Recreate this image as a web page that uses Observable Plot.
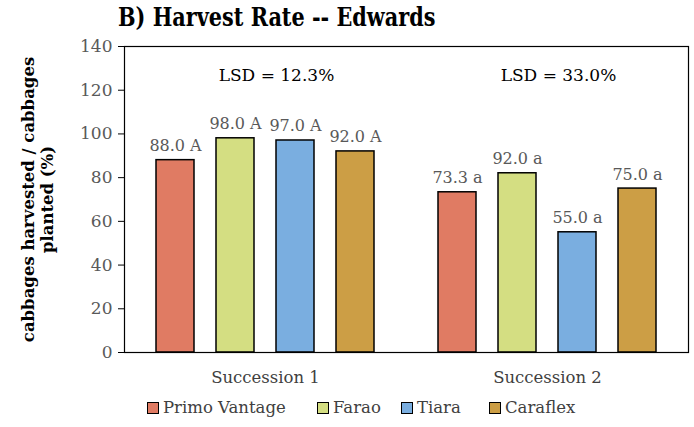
<!DOCTYPE html>
<html><head><meta charset="utf-8">
<script src="https://cdn.jsdelivr.net/npm/d3@7"></script>
<script src="https://cdn.jsdelivr.net/npm/@observablehq/plot@0.6"></script>
<style>
body{margin:0;background:#fff;width:694px;height:427px;overflow:hidden;position:relative;font-family:"DejaVu Serif",serif}
#title{position:absolute;left:118px;top:2px;font-family:"DejaVu Serif",serif;font-weight:bold;font-size:26px;color:#000;white-space:nowrap;transform:scaleX(0.8);transform-origin:0 0}
#chart{position:absolute;left:0;top:40px}
#legend{position:absolute;left:0;top:398px;width:694px;height:24px;font-family:"DejaVu Serif",serif;font-size:16.5px;color:#404040}
.item{position:absolute;top:0;display:flex;align-items:center;white-space:nowrap}
.sw{width:12px;height:12px;border:1.5px solid #000;margin-right:4px;box-sizing:border-box}
</style></head><body>
<div id="title">B) Harvest Rate -- Edwards</div>
<div id="chart"></div>
<div id="legend"></div>
<script>
const successions = ["Succession 1", "Succession 2"];
const varieties = ["Primo Vantage", "Farao", "Tiara", "Caraflex"];
const colors = ["#E07B63", "#D4DE82", "#7AAEE0", "#CC9E45"];
const s1Values = [88.0, 98.0, 97.0, 92.0];
const s2Values = [73.3, 82.0, 55.0, 75.0];
const s1Labels = ["88.0 A", "98.0 A", "97.0 A", "92.0 A"];
const s2Labels = ["73.3 a", "92.0 a", "55.0 a", "75.0 a"];
const lsdLabels = ["LSD = 12.3%", "LSD = 33.0%"];
const yTicks = [0, 20, 40, 60, 80, 100, 120, 140];
const yTitle = "cabbages harvested / cabbages\nplanted (%)";

const data = [];
varieties.forEach((v, i) => data.push({succession: successions[0], variety: v, value: s1Values[i], label: s1Labels[i]}));
varieties.forEach((v, i) => data.push({succession: successions[1], variety: v, value: s2Values[i], label: s2Labels[i]}));
const lsd = successions.map((s, i) => ({succession: s, label: lsdLabels[i]}));
const ytitle = [{succession: successions[0], label: yTitle}];
const ff = "'DejaVu Serif', serif";

const plot = Plot.plot({
  width: 694, height: 355,
  marginTop: 6, marginBottom: 43, marginLeft: 123, marginRight: 6,
  style: {fontFamily: ff, fontSize: "15px", background: "#fff", color: "#000", overflow: "visible"},
  fx: {domain: successions, paddingInner: 0, paddingOuter: 0, label: null, axis: null},
  x: {domain: varieties, paddingInner: 0.375, paddingOuter: 0.52, axis: null},
  y: {domain: [0, 140], label: null, axis: null},
  color: {domain: varieties, range: colors},
  marks: [
    Plot.barY(data, {fx: "succession", x: "variety", y: "value", fill: "variety", stroke: "#000", strokeWidth: 1.5}),
    Plot.text(data, {fx: "succession", x: "variety", y: "value", text: "label", lineAnchor: "bottom", dy: -9, fill: "#595959", fontSize: 16, fontFamily: ff}),
    Plot.text(lsd, {fx: "succession", text: "label", frameAnchor: "top", dy: 22, dx: 11, fill: "#000", fontSize: 17, fontFamily: ff}),
    Plot.axisY({ticks: yTicks, tickSize: 6, tickPadding: 6, fill: "#595959", stroke: "#000", fontSize: 17, fontFamily: ff, label: null}),
    Plot.axisFx({anchor: "bottom", tickSize: 0, tickPadding: 19, fill: "#404040", fontSize: 16.5, fontFamily: ff, label: null}),
    Plot.text(ytitle, {fx: "succession", text: "label", frameAnchor: "left", textAnchor: "middle", lineAnchor: "middle", rotate: -90, dx: -87, lineHeight: 1.15, fontWeight: "bold", fontSize: 16.5, fontFamily: ff, fill: "#000"}),
    Plot.frame({facet: "super", stroke: "#000", strokeWidth: 1.2})
  ]
});
document.getElementById("chart").appendChild(plot);

const legendX = [147, 317, 401, 489];
const leg = document.getElementById("legend");
varieties.forEach((v, i) => {
  const it = document.createElement("div");
  it.className = "item";
  it.style.left = legendX[i] + "px";
  const sw = document.createElement("span");
  sw.className = "sw";
  sw.style.background = colors[i];
  const t = document.createElement("span");
  t.textContent = v;
  it.appendChild(sw); it.appendChild(t);
  leg.appendChild(it);
});
</script>
</body></html>
